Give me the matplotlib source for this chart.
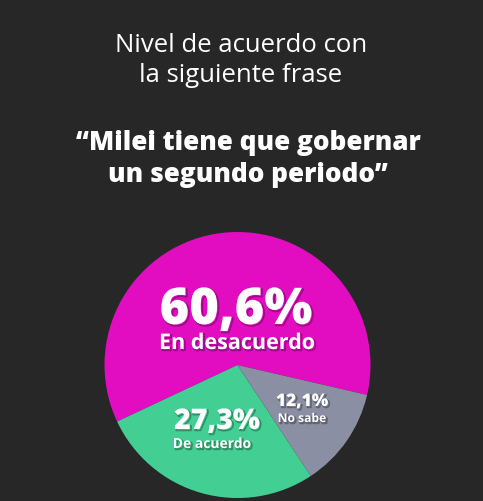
import matplotlib
matplotlib.use("Agg")
from matplotlib import pyplot as plt
import matplotlib.patheffects as pe

# data
categorias = ['En desacuerdo', 'De acuerdo', 'No sabe']
valores = [60.6, 27.3, 12.1]
etiquetas = ['60,6%', '27,3%', '12,1%']
colores = ['#e20dc0', '#43cf93', '#8b8fa3']

titulo = ['Nivel de acuerdo con', 'la siguiente frase']
frase = ['\u201cMilei tiene que gobernar', 'un segundo periodo\u201d']

W, H = 483, 501
bg = '#272727'
fuente = 'Open Sans'

fig = plt.figure(figsize=(W / 100, H / 100), dpi=100)
fig.patch.set_facecolor(bg)

def px(x, y):
    return x / W, 1 - y / H

# title lines (regular) and quoted phrase (bold)
for txt, yb in zip(titulo, [52, 82]):
    fig.text(*px(241, yb), txt, color='white', fontsize=18.5, family=fuente,
             ha='center', va='baseline')
for txt, yb in zip(frase, [150, 182]):
    fig.text(*px(248, yb), txt, color='white', fontsize=18.8, family=fuente,
             weight='heavy', ha='center', va='baseline')

# pie: centre at (237.5, 365) px, radius 133 px
cx, cy, r = 237.5, 365, 133
ax = fig.add_axes([(cx - r) / W, (H - cy - r) / H, 2 * r / W, 2 * r / H])
ax.pie(valores, colors=colores, startangle=-13, counterclock=True,
       wedgeprops=dict(linewidth=0))
ax.set_xlim(-1, 1)
ax.set_ylim(-1, 1)
ax.axis('off')

sombra = [pe.SimpleLineShadow(offset=(1, -1), shadow_color='black', alpha=0.3, linewidth=1.2),
          pe.Normal()]

def dp(x, y):
    return (x - cx) / r, (cy - y) / r

# label baselines (px) and sizes per slice
pos_pct = [(236, 324), (217, 429), (302, 406)]
pos_cat = [(237, 349), (212, 448), (302, 422)]
tam_pct = [36.5, 20.5, 12.5]
tam_cat = [15.5, 10, 8.7]

for i in range(len(valores)):
    t = ax.text(*dp(*pos_pct[i]), etiquetas[i], color='white', fontsize=tam_pct[i],
                family=fuente, weight='heavy', ha='center', va='baseline')
    t.set_path_effects(sombra)
    t = ax.text(*dp(*pos_cat[i]), categorias[i], color='white', fontsize=tam_cat[i],
                family=fuente, weight='bold', ha='center', va='baseline')
    t.set_path_effects(sombra)

fig.savefig('out.png', dpi=100, facecolor=bg)
